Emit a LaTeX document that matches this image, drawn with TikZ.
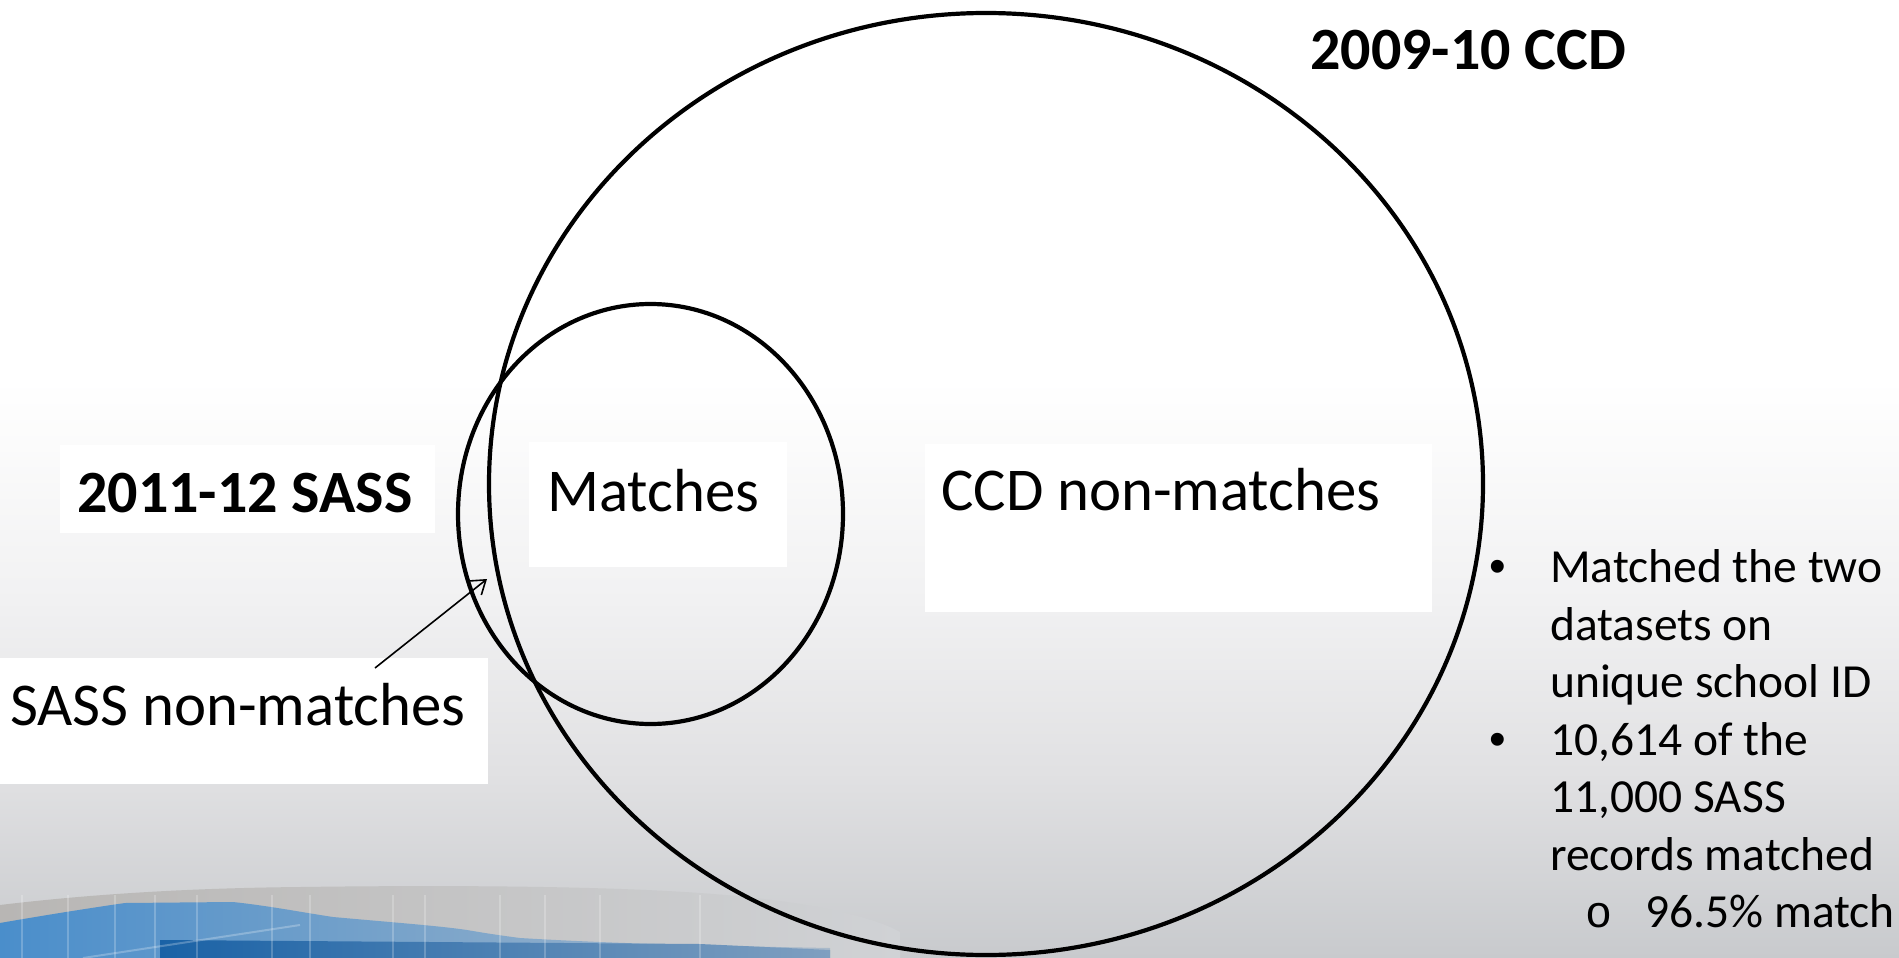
\documentclass[tikz,border=0pt]{standalone}
\usepackage{fontspec}
\setmainfont{Carlito}
\newfontfamily\bulfont{Liberation Sans}
\newfontfamily\subfont{Liberation Mono}
\usetikzlibrary{arrows.meta,shapes.geometric}
\definecolor{bgA}{HTML}{F1F1F2}
\definecolor{bgB}{HTML}{E0E0E2}
\definecolor{bgC}{HTML}{C8CACD}
\definecolor{swgA}{HTML}{B8B6B4}
\definecolor{swgB}{HTML}{D0D2D5}
\definecolor{bluA}{HTML}{4A8ECB}
\definecolor{bluB}{HTML}{3583C3}
\definecolor{bluC}{HTML}{A9B9C9}
\definecolor{bluD}{HTML}{1A62A6}
\definecolor{bluE}{HTML}{7F9FC0}
\begin{document}
\begin{tikzpicture}[x=1pt,y=-1pt,
  venn/.style={draw=black, line width=4.2pt, ellipse, inner sep=0pt},
  wbox/.style={fill=white, draw=none, inner sep=0pt, anchor=north west},
  lbl/.style={font=\fontsize{60.8}{72}\selectfont, inner sep=0pt, anchor=base west},
  lblb/.style={font=\fontsize{60}{72}\selectfont\bfseries, inner sep=0pt, anchor=base west},
  bul/.style={font=\fontsize{47.5}{57.7}\selectfont, inner sep=0pt, anchor=base west},
  bulmark/.style={font=\bulfont\fontsize{47.5}{57.7}\selectfont, inner sep=0pt, anchor=base},
  submark/.style={font=\subfont\fontsize{45}{57.7}\selectfont, inner sep=0pt, anchor=base},
  pointer/.style={line width=1.6pt, -{Straight Barb[length=13pt,width=18pt,line width=1.6pt]}}
]
\useasboundingbox (0,0) rectangle (1899,958);
% background
\fill[white] (0,0) rectangle (1899,381);
\shade[top color=white, bottom color=bgA] (0,380) rectangle (1899,601);
\shade[top color=bgA, bottom color=bgB] (0,600) rectangle (1899,781);
\shade[top color=bgB, bottom color=bgC] (0,780) rectangle (1899,958);
% swoosh decoration
\shade[left color=swgA, right color=swgB] (0,905) .. controls (100,893) and (200,888) .. (300,887) .. controls (450,885) and (600,886) .. (700,893) .. controls (800,900) and (870,915) .. (900,932) -- (900,958) -- (0,958) -- cycle;
\shade[left color=bluA, middle color=bluB, right color=bluC] (0,923) .. controls (40,916) and (90,908) .. (125,903) -- (233,902) .. controls (270,906) and (300,912) .. (333,917) .. controls (400,923) and (440,926) .. (467,930) .. controls (490,934) and (505,936) .. (520,938) .. controls (620,944) and (720,946) .. (830,948) -- (830,958) -- (0,958) -- cycle;
\shade[left color=bluD, right color=bluE] (160,940) -- (700,944) -- (830,950) -- (830,958) -- (160,958) -- cycle;
\draw[white, opacity=0.25, line width=2pt] (83,958) -- (300,925);
\foreach \xx in {22,68,115,155,197,272,310,393,425,500,545,600,700}
  \draw[white, opacity=0.22, line width=2pt] (\xx,895) -- (\xx,958);
% white text boxes
\node[wbox, minimum width=375, minimum height=88] (sassbox) at (60,445) {};
\node[wbox, minimum width=488, minimum height=126] (snmbox) at (0,658) {};
\node[wbox, minimum width=258, minimum height=125] (mbox) at (529,442) {};
\node[wbox, minimum width=507, minimum height=168] (cbox) at (925,444) {};
% circles
\node[venn, minimum width=994, minimum height=942] (ccd) at (986,484) {};
\node[venn, minimum width=385, minimum height=420] (sass) at (650.5,514) {};
% labels
\node[lblb] (sasslbl) at (77,512) {2011-12 SASS};
\node[lbl] (snmlbl) at (10,725) {SASS non-matches};
\node[lbl] (mlbl) at (547,511) {Matches};
\node[lbl] (clbl) at (941,510) {CCD non-matches};
\node[lblb] (ccdlbl) at (1310,70) {2009-10 CCD};
% arrow
\coordinate (atail) at (375,668);
\coordinate (ahead) at (487,579);
\draw[pointer] (atail) -- (ahead);
% bullet list
\node[bulmark] (bm1) at (1498,582) {•};
\node[bulmark] (bm2) at (1498,755) {•};
\node[submark] (sm1) at (1599,927) {o};
\node[bul] (t1) at (1550,582) {Matched the two};
\node[bul] (t2) at (1550,640) {datasets on};
\node[bul] (t3) at (1550,697) {unique school ID};
\node[bul] (t4) at (1550,755) {10,614 of the};
\node[bul] (t5) at (1550,812) {11,000 SASS};
\node[bul] (t6) at (1550,870) {records matched};
\node[bul] (t7) at (1645,927) {96.5\% match};
\end{tikzpicture}
\end{document}
